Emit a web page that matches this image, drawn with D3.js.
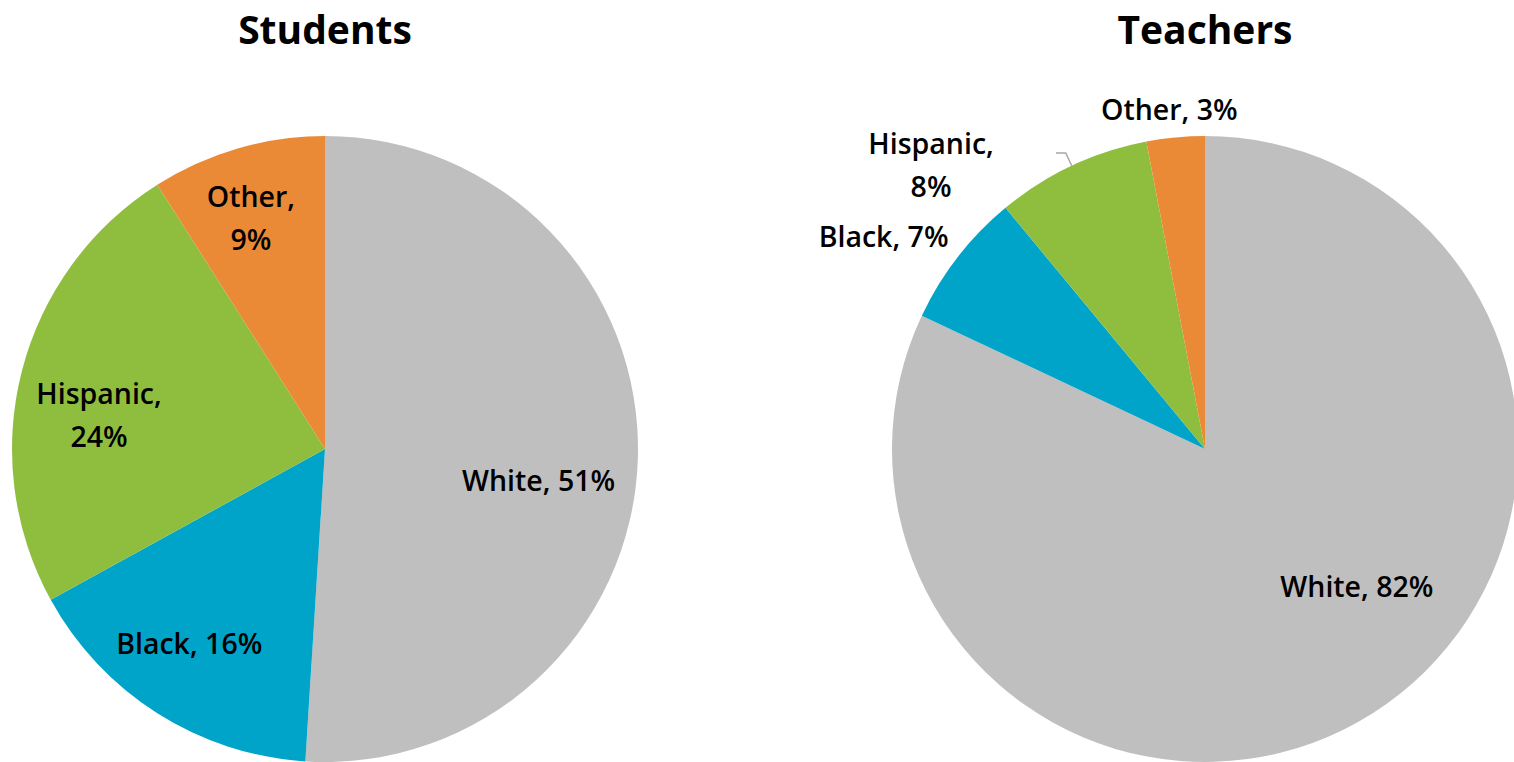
<!DOCTYPE html>
<html>
<head>
<meta charset="utf-8">
<script src="https://cdn.jsdelivr.net/npm/d3@7"></script>
<style>
  html, body { margin: 0; padding: 0; background: #fff; overflow: hidden; }
  svg { display: block; font-family: "Open Sans", "Noto Sans", sans-serif; }
</style>
</head>
<body>
<svg id="chart" width="1514" height="762"></svg>
<script>
// ---- data ----
const categories = ["White", "Black", "Hispanic", "Other"];
const studentValues = [51, 16, 24, 9];
const teacherValues = [82, 7, 8, 3];
const chartTitles = ["Students", "Teachers"];
const colors = ["#BFBFBF", "#00A4C9", "#8FBE3F", "#EB8A36"];

// ---- label layout (not data) ----
// per slice: [angle nudge in degrees from slice mid-angle, radius factor, wrap?, leader?]
const studentLabelLayout = [[6.7, 0.69, false, false], [2.4, 0.76, false, false], [-5.9, 0.73, true, false], [-1.6, 0.775, true, false]];
const teacherLabelLayout = [[-15.4, 0.655, false, false], [-4.4, 1.23, false, false], [-18.8, 1.26, true, true], [-0.6, 1.09, false, false]];

const svg = d3.select("#chart");
const R = 313;
const centers = [[325, 449], [1205, 449]];
const datasets = [studentValues, teacherValues];
const layouts = [studentLabelLayout, teacherLabelLayout];

const color = d3.scaleOrdinal().domain(categories).range(colors);
const pie = d3.pie().sort(null).value(d => d.value);
const arc = d3.arc().innerRadius(0).outerRadius(R);

datasets.forEach((vals, ci) => {
  const data = categories.map((c, i) => ({ cat: c, value: vals[i] }));
  const arcs = pie(data);
  const g = svg.append("g").attr("transform", `translate(${centers[ci][0]},${centers[ci][1]})`);

  svg.append("text")
    .attr("x", centers[ci][0]).attr("y", 44)
    .attr("text-anchor", "middle")
    .attr("font-size", 39).attr("font-weight", 700).attr("fill", "#000")
    .text(chartTitles[ci]);

  g.selectAll("path.slice").data(arcs).join("path")
    .attr("class", "slice")
    .attr("d", arc)
    .attr("fill", d => color(d.data.cat));

  const polar = (ang, r) => [r * Math.sin(ang), -r * Math.cos(ang)];

  arcs.forEach((a, i) => {
    const [nudge, rf, wrap, leader] = layouts[ci][i];
    const mid = (a.startAngle + a.endAngle) / 2;
    const ang = mid + nudge * Math.PI / 180;
    const [lx, ly] = polar(ang, rf * R);
    const lines = wrap ? [a.data.cat + ",", a.data.value + "%"] : [a.data.cat + ", " + a.data.value + "%"];
    const lh = 43;
    const t = g.append("text")
      .attr("text-anchor", "middle")
      .attr("font-size", 28.5).attr("font-weight", 600).attr("fill", "#000");
    lines.forEach((ln, k) => {
      t.append("tspan")
        .attr("x", lx)
        .attr("y", ly + (k - (lines.length - 1) / 2) * lh)
        .attr("dy", "0.35em")
        .text(ln);
    });
    if (leader) {
      const p0 = polar(mid, R);
      const p1 = polar(mid, R * 1.045);
      const xEnd = lx + 125;
      g.append("polyline")
        .attr("points", [[xEnd, p1[1]], p1, p0].map(p => p.join(",")).join(" "))
        .attr("fill", "none").attr("stroke", "#A6A6A6").attr("stroke-width", 1.5);
    }
  });
});
</script>
</body>
</html>
